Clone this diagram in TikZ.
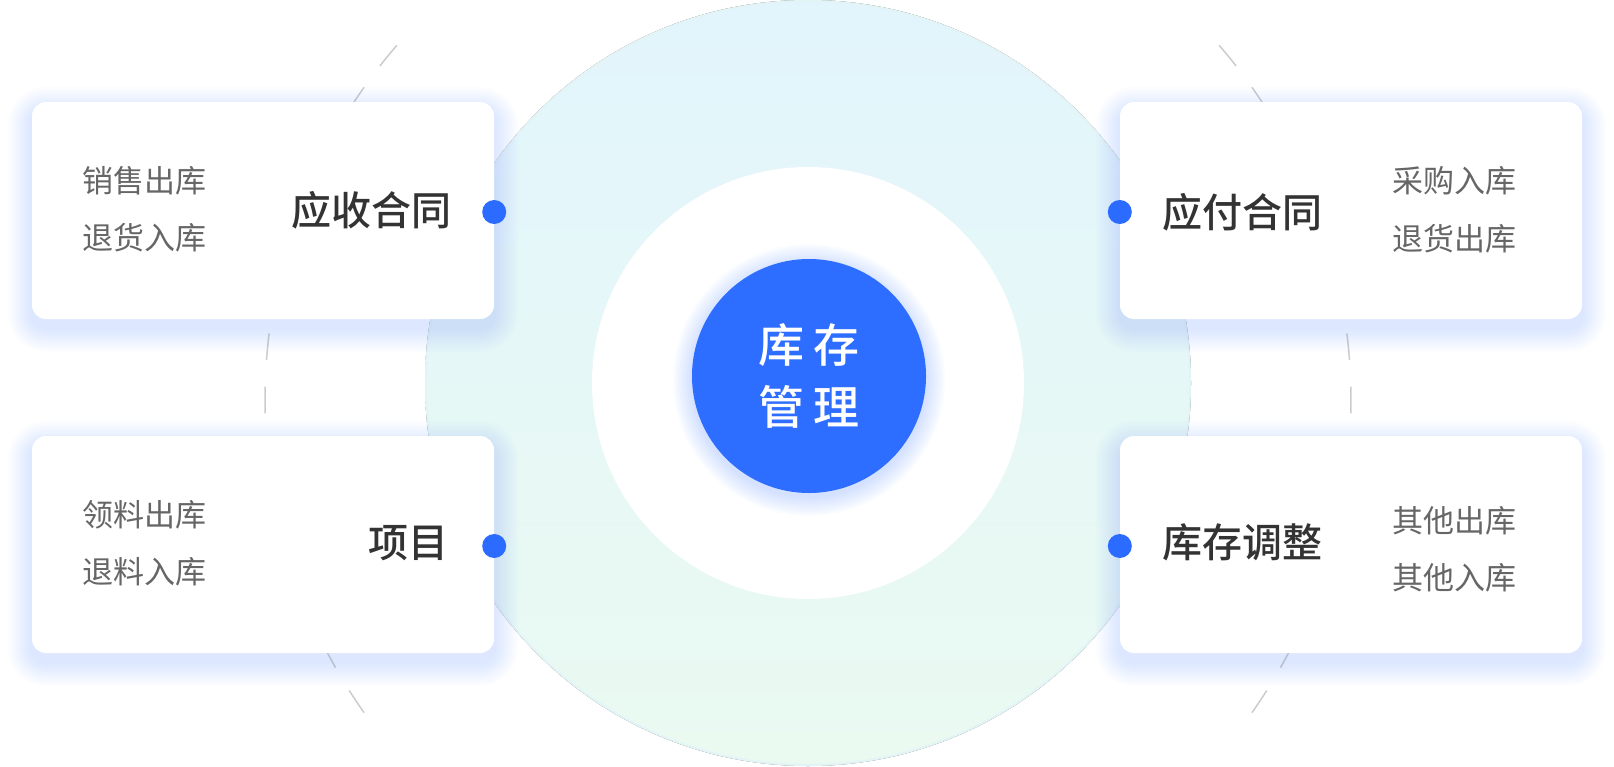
\documentclass[tikz,border=0pt]{standalone}
\usepackage{fontspec}
\setmainfont{Noto Sans CJK SC}
\newfontfamily\mediumfont{Noto Sans CJK SC Medium}
\usetikzlibrary{positioning}

\definecolor{mainblue}{HTML}{2D6DFF}
\definecolor{dotblue}{HTML}{2B6BFF}
\definecolor{ringtop}{HTML}{E2F5FC}
\definecolor{ringbot}{HTML}{EAFAF1}
\definecolor{ringedge}{HTML}{E3F4F7}
\definecolor{glowblue}{HTML}{6496FF}
\definecolor{coreglow}{HTML}{4A86FF}
\definecolor{titlegray}{HTML}{333333}
\definecolor{entrygray}{HTML}{666666}
\definecolor{dashgray}{HTML}{CCCCCC}

\tikzset{
  card/.style={rectangle,rounded corners=14pt,fill=white,minimum width=462pt,minimum height=217pt,inner sep=0pt},
  bluedot/.style={circle,fill=dotblue,minimum size=24pt,inner sep=0pt},
  cardtitle/.style={text=titlegray,font=\fontsize{40}{48}\mediumfont,inner sep=0pt},
  cardentry/.style={text=entrygray,font=\fontsize{31}{37}\selectfont,inner sep=0pt},
  dashline/.style={dashgray,line width=1.5pt,dash pattern=on 26.655pt off 26.655pt},
  glow/.style={fill=glowblue,fill opacity=0.015},
}

\begin{document}
\begin{tikzpicture}[x=1pt,y=-1pt]
    \useasboundingbox (0,0) rectangle (1614,766);
    \fill[white] (0,0) rectangle (1614,766);
    % rings
    \fill[top color=ringtop,bottom color=ringbot] (808,383) circle[radius=383];
    \draw[ringedge,line width=2pt] (808,383) circle[radius=382];
    \fill[white] (808,383) circle[radius=216];
    \coordinate (ringc) at (808,400);
    \draw[dashline] ([shift={(144.844:543)}]ringc) arc[start angle=144.844,end angle=220.781,radius=543];
    \draw[dashline] ([shift={(-40.781:543)}]ringc) arc[start angle=-40.781,end angle=35.156,radius=543];
    % card shadows
    \foreach \x/\y in {32/102,32/436,1120/102,1120/436}
        \foreach \s in {1,...,12}
            \fill[glow,rounded corners=14+\s*2] (\x-\s*2,\y-\s*2+9) rectangle ++(462+\s*4,217+\s*4);
    % cards
    \node[card] (tlcard) at (263,210.5) {};
    \node[card] (blcard) at (263,544.5) {};
    \node[card] (trcard) at (1351,210.5) {};
    \node[card] (brcard) at (1351,544.5) {};
    \node[bluedot] (tldot) at ([yshift=-1.5pt]tlcard.east) {};
    \node[bluedot] (bldot) at ([yshift=-1.5pt]blcard.east) {};
    \node[bluedot] (trdot) at ([yshift=-1.5pt]trcard.west) {};
    \node[bluedot] (brdot) at ([yshift=-1.5pt]brcard.west) {};
    % texts
    \node[cardtitle,anchor=east] (tltitle) at (452,210) {应收合同};
    \node[cardentry,anchor=west] (tlone) at (82,181) {销售出库};
    \node[cardentry,anchor=west] (tltwo) at (82,238) {退货入库};
    \node[cardtitle,anchor=east] (bltitle) at (449,543) {项目};
    \node[cardentry,anchor=west] (blone) at (82,515) {领料出库};
    \node[cardentry,anchor=west] (bltwo) at (82,572) {退料入库};
    \node[cardtitle,anchor=west] (trtitle) at (1162,212) {应付合同};
    \node[cardentry,anchor=west] (trone) at (1392,181) {采购入库};
    \node[cardentry,anchor=west] (trtwo) at (1392,239) {退货出库};
    \node[cardtitle,anchor=west] (brtitle) at (1162,542) {库存调整};
    \node[cardentry,anchor=west] (brone) at (1392,521) {其他出库};
    \node[cardentry,anchor=west] (brtwo) at (1392,578) {其他入库};
    % center
    \foreach \s in {1,...,10}
        \fill[coreglow,fill opacity=0.022] (809,380) circle[radius=116+\s*2];
    \node[circle,fill=mainblue,minimum size=234pt,inner sep=0pt,text=white,
        font=\fontsize{46}{62}\mediumfont,align=center] (core) at (809,376) {库\kern10pt 存\\管\kern10pt 理};
\end{tikzpicture}
\end{document}
